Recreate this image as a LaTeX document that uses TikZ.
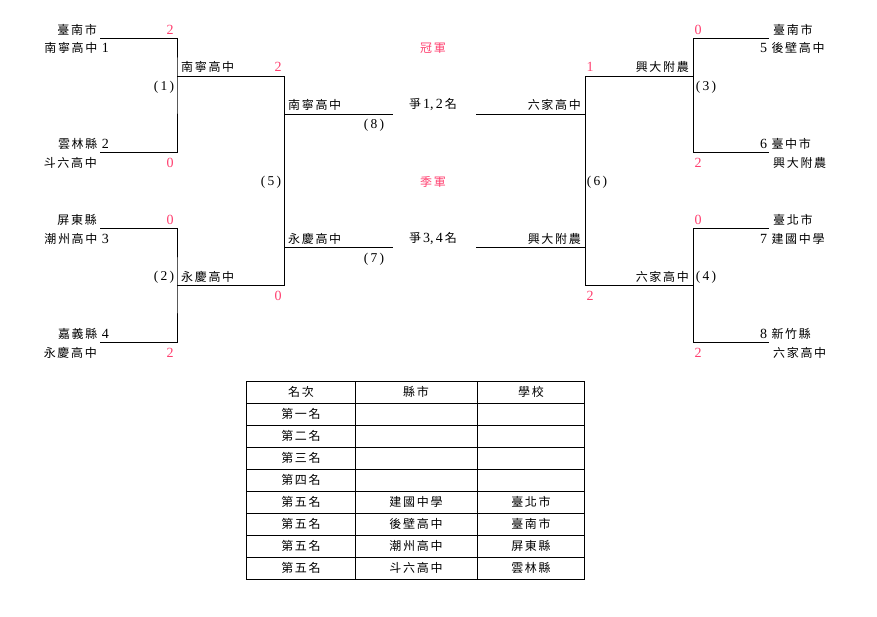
\documentclass[tikz,border=0pt]{standalone}
\usepackage{fontspec}
\setmainfont{Liberation Serif}
\newfontfamily\cjk[LetterSpace=14]{Noto Sans CJK TC}
\usetikzlibrary{positioning}
\definecolor{scorered}{HTML}{FF3F6F}
\tikzstyle{team}=[inner sep=0pt,font=\fontsize{12}{14}\selectfont\cjk]
\tikzstyle{score}=[inner sep=0pt,text=scorered,font=\fontsize{14}{16}\selectfont]
\tikzstyle{game}=[inner sep=0pt,font=\fontsize{13.5}{16}\selectfont]
\tikzstyle{title}=[inner sep=0pt,text=scorered,font=\fontsize{12}{14}\selectfont\cjk]
\tikzstyle{bracket}=[line width=0.9pt]
\newcommand{\seed}[1]{{\rmfamily\fontsize{14}{16}\selectfont #1}}

\begin{document}
\begin{tikzpicture}[x=1pt,y=-1pt]
  \useasboundingbox (0,0) rectangle (877,617);

  % bracket corners, left half
  \coordinate (s1) at (100,38);  \coordinate (s2) at (100,152);
  \coordinate (s3) at (100,228); \coordinate (s4) at (100,342);
  \coordinate (k1) at (177,76);  \coordinate (k2) at (177,285);
  \coordinate (r1) at (284,76);  \coordinate (r2) at (284,285);
  \coordinate (f1) at (284,114); \coordinate (g1) at (393,114);
  \coordinate (f2) at (284,247); \coordinate (g2) at (393,247);
  % right half
  \coordinate (s5) at (769,38);  \coordinate (s6) at (769,152);
  \coordinate (s7) at (769,228); \coordinate (s8) at (769,342);
  \coordinate (k3) at (693,76);  \coordinate (k4) at (693,285);
  \coordinate (r3) at (585,76);  \coordinate (r4) at (585,285);
  \coordinate (f3) at (585,114); \coordinate (g3) at (476,114);
  \coordinate (f4) at (585,247); \coordinate (g4) at (476,247);

  \draw[bracket] (s1) -| (k1) |- (s2);
  \draw[bracket] (s3) -| (k2) |- (s4);
  \draw[bracket] (k1) -- (r1) -- (r2) -- (k2);
  \draw[bracket] (f1) -- (g1);
  \draw[bracket] (f2) -- (g2);

  \draw[bracket] (s5) -| (k3) |- (s6);
  \draw[bracket] (s7) -| (k4) |- (s8);
  \draw[bracket] (k3) -- (r3) -- (r4) -- (k4);
  \draw[bracket] (f3) -- (g3);
  \draw[bracket] (f4) -- (g4);

  % left seeds
  \node (c1) [team,anchor=east] at (97,30)  {臺南市};
  \node (t1) [team,anchor=east] at (109,48) {南寧高中 \seed{1}};
  \node (c2) [team,anchor=east] at (109,144) {雲林縣 \seed{2}};
  \node (t2) [team,anchor=east] at (97,163) {斗六高中};
  \node (c3) [team,anchor=east] at (97,220) {屏東縣};
  \node (t3) [team,anchor=east] at (109,239) {潮州高中 \seed{3}};
  \node (c4) [team,anchor=east] at (109,334) {嘉義縣 \seed{4}};
  \node (t4) [team,anchor=east] at (97,353) {永慶高中};

  % right seeds
  \node (c5) [team,anchor=west] at (773,30)  {臺南市};
  \node (t5) [team,anchor=west] at (760,48)  {\seed{5} 後壁高中};
  \node (c6) [team,anchor=west] at (760,144) {\seed{6} 臺中市};
  \node (t6) [team,anchor=west] at (773,163) {興大附農};
  \node (c7) [team,anchor=west] at (773,220) {臺北市};
  \node (t7) [team,anchor=west] at (760,239) {\seed{7} 建國中學};
  \node (c8) [team,anchor=west] at (760,334) {\seed{8} 新竹縣};
  \node (t8) [team,anchor=west] at (773,353) {六家高中};

  % winners
  \node (w1) [team,anchor=west] at (181,67)  {南寧高中};
  \node (w2) [team,anchor=west] at (181,277) {永慶高中};
  \node (w5) [team,anchor=west] at (288,105) {南寧高中};
  \node (l5) [team,anchor=west] at (288,239) {永慶高中};
  \node (w3) [team,anchor=east] at (689,67)  {興大附農};
  \node (w4) [team,anchor=east] at (689,277) {六家高中};
  \node (w6) [team,anchor=east] at (581,105) {六家高中};
  \node (l6) [team,anchor=east] at (581,239) {興大附農};

  % scores
  \node (p1) [score] at (170,30)  {2};
  \node (p2) [score] at (170,163) {0};
  \node (p3) [score] at (170,220) {0};
  \node (p4) [score] at (170,353) {2};
  \node (q1) [score] at (278,67)  {2};
  \node (q2) [score] at (278,296) {0};
  \node (p5) [score] at (698,30)  {0};
  \node (p6) [score] at (698,163) {2};
  \node (p7) [score] at (698,220) {0};
  \node (p8) [score] at (698,353) {2};
  \node (q3) [score] at (590,67)  {1};
  \node (q4) [score] at (590,296) {2};

  % game numbers
  \node (m1) [game] at (164,87)  {(\,1\,)};
  \node (m2) [game] at (164,277) {(\,2\,)};
  \node (m3) [game] at (706,87)  {(\,3\,)};
  \node (m4) [game] at (706,277) {(\,4\,)};
  \node (m5) [game] at (271,182) {(\,5\,)};
  \node (m6) [game] at (597,182) {(\,6\,)};
  \node (m7) [game] at (374,259) {(\,7\,)};
  \node (m8) [game] at (374,125) {(\,8\,)};

  % centre
  \node (champ) [title] at (433,48)  {冠軍};
  \node (third) [title] at (433,182) {季軍};
  \node (fin)   [team]  at (433,105) {爭\,\seed{1,\,2}\,名};
  \node (cons)  [team]  at (433,239) {爭\,\seed{3,\,4}\,名};

  % ranking table
  \draw[line width=0.7pt] (246,381) rectangle (584,579);
  \foreach \y in {403,425,447,469,491,513,535,557}
    \draw[line width=0.7pt] (246,\y) -- (584,\y);
  \foreach \x in {355,477}
    \draw[line width=0.7pt] (\x,381) -- (\x,579);
  \foreach \rk/\sc/\cy [count=\i] in {名次/縣市/學校, 第一名/{}/{}, 第二名/{}/{},
      第三名/{}/{}, 第四名/{}/{}, 第五名/建國中學/臺北市, 第五名/後壁高中/臺南市,
      第五名/潮州高中/屏東縣, 第五名/斗六高中/雲林縣} {
    \node (rk\i) [team] at (301,370+22*\i) {\rk};
    \node (sc\i) [team] at (416,370+22*\i) {\sc};
    \node (cy\i) [team] at (531,370+22*\i) {\cy};
  }
\end{tikzpicture}
\end{document}
